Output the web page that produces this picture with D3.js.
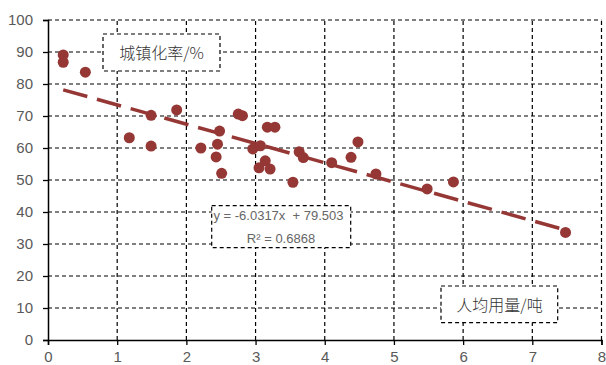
<!DOCTYPE html>
<html><head><meta charset="utf-8">
<script src="https://cdn.jsdelivr.net/npm/d3@7"></script>
<style>body{margin:0;background:#fff}svg{display:block}</style>
</head><body><svg id="c" width="606" height="365"></svg>
<script>
const usage = [0.22,0.22,0.54,1.49,1.86,1.175,1.49,2.21,2.75,2.81,2.48,2.45,2.43,2.51,3.17,3.28,2.96,3.07,3.14,3.05,3.21,3.63,3.69,3.54,4.48,4.38,4.10,4.74,5.48,5.86,7.48];
const urban = [89.1,86.8,83.7,70.2,71.9,63.2,60.6,60.0,70.6,70.1,65.3,61.2,57.2,52.1,66.5,66.5,59.7,60.7,56.0,53.8,53.4,58.8,57.0,49.3,61.9,57.1,55.4,51.9,47.2,49.4,33.6];
const xTicks = [0,1,2,3,4,5,6,7,8];
const yTicks = [0,10,20,30,40,50,60,70,80,90,100];
const slope = -6.0317, intercept = 79.503;
const eqLines = ["y = -6.0317x  + 79.503", "R\u00b2 = 0.6868"];
const yTitle = "城镇化率/%";
const xTitle = "人均用量/吨";

const svg = d3.select("#c");
const x = d3.scaleLinear().domain([0,8]).range([48,601.5]);
const y = d3.scaleLinear().domain([0,100]).range([340,20]);
const numFont = "'Liberation Sans Narrow','Arial Narrow','Liberation Sans',Arial,sans-serif";
const red = "#953735";

// grid
const g = svg.append("g").attr("stroke","#000").attr("stroke-width",1.2).attr("stroke-dasharray","4,3");
g.selectAll(".gx").data(xTicks.filter(d=>d>0)).enter().append("line")
 .attr("x1",d=>x(d)).attr("x2",d=>x(d)).attr("y1",y(0)).attr("y2",y(100));
g.selectAll(".gy").data(yTicks.filter(d=>d>0)).enter().append("line")
 .attr("x1",x(0)).attr("x2",x(8)).attr("y1",d=>y(d)).attr("y2",d=>y(d));

// axes
const ya = svg.append("g").attr("transform",`translate(${x(0)},0)`)
 .call(d3.axisLeft(y).tickValues(yTicks).tickSize(5).tickPadding(10));
const xa = svg.append("g").attr("transform",`translate(0,${y(0)})`)
 .call(d3.axisBottom(x).tickValues(xTicks).tickSize(5).tickPadding(6));
[ya,xa].forEach(a=>{
  a.select(".domain").attr("stroke","#000").attr("stroke-width",1.5);
  a.selectAll(".tick line").attr("stroke","#000").attr("stroke-width",1.3);
  a.selectAll("text").attr("fill","#595959").style("font-family",numFont).style("font-size","15px");
});

// trend line
const xmin = d3.min(usage), xmax = d3.max(usage);
svg.append("line").attr("x1",x(xmin)).attr("y1",y(slope*xmin+intercept))
 .attr("x2",x(xmax)).attr("y2",y(slope*xmax+intercept))
 .attr("stroke",red).attr("stroke-width",3.5).attr("stroke-dasharray","25,10");

// points
svg.append("g").selectAll("circle").data(usage).enter().append("circle")
 .attr("cx",d=>x(d)).attr("cy",(d,i)=>y(urban[i])).attr("r",5.5).attr("fill",red);

// boxes
function box(x0,y0,x1,y1){
  svg.append("rect").attr("x",x0).attr("y",y0).attr("width",x1-x0).attr("height",y1-y0)
   .attr("fill","#fff").attr("stroke","#000").attr("stroke-width",1.2).attr("stroke-dasharray","4,3");
}
const cjk = "'Noto Sans CJK SC',sans-serif";
box(103,34,220,71);
svg.append("text").attr("x",161.5).attr("y",58.5).attr("text-anchor","middle")
 .style("font-family",cjk).style("font-size","16px").style("font-weight",300).attr("fill","#333").text(yTitle);
box(441,286,557.7,322.7);
svg.append("text").attr("x",499.5).attr("y",310.5).attr("text-anchor","middle")
 .style("font-family",cjk).style("font-size","16px").style("font-weight",300).attr("fill","#333").text(xTitle);
box(211.7,205.7,350.7,247.7);
svg.append("g").selectAll("text").data(eqLines).enter().append("text")
 .attr("x",(d,i)=>i===0?278.5:281).attr("y",(d,i)=>220+i*22.5).attr("text-anchor","middle")
 .style("white-space","pre")
 .style("font-family",numFont).style("font-size","13px").attr("fill","#666").text(d=>d);
</script></body></html>
